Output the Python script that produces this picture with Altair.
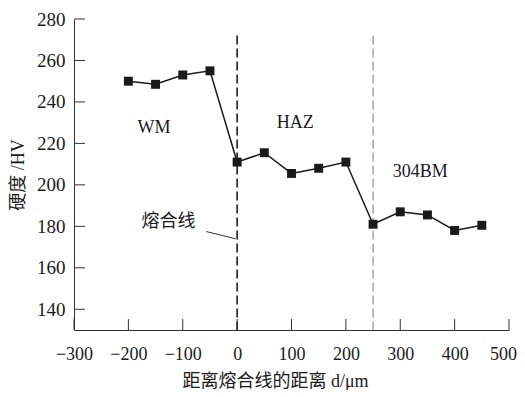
import altair as alt
import pandas as pd

dist = [-200, -150, -100, -50, 0, 50, 100, 150, 200, 250, 300, 350, 400, 450]
hard = [250, 248.5, 253, 255, 211, 215.5, 205.5, 208, 211, 181, 187, 185.5, 178, 180.5]
x_ticks = [-300, -200, -100, 0, 100, 200, 300, 400, 500]
y_ticks = [140, 160, 180, 200, 220, 240, 260, 280]
zones = ["WM", "HAZ", "304BM"]
zone_x = [-153, 107, 337]
zone_y = [227.5, 230, 206]
fusion_label = ["熔合线"]
fusion_x = [-126]
fusion_y = [182]
leader_x = [-57]
leader_x2 = [-3]
leader_y = [177.5]
leader_y2 = [174]
boundary_x = [0, 250]
boundary_top = 272
y_min, y_max = 130, 280
x_min, x_max = -300, 500

W, H = 435, 311
SERIF = "Liberation Serif"
CJK = "Liberation Serif, Noto Sans CJK SC"
INK = "#1a1a1a"

xs = alt.Scale(domain=[x_min, x_max], nice=False, zero=False)
ys = alt.Scale(domain=[y_min, y_max], nice=False, zero=False)

df = pd.DataFrame({"x": dist, "y": hard})

base_x = alt.X("x:Q", scale=xs, axis=alt.Axis(
    values=x_ticks, tickSize=0, labelPadding=15, labelFont=SERIF, labelFontSize=18,
    labelOverlap=False, labelFlush=False,
    labelOffset={"condition": {"test": "datum.value == 500", "value": -6}, "value": 0},
    labelColor=INK, domainColor="#333", domainWidth=1, grid=False,
    title="距离熔合线的距离 d/μm", titleFont=CJK, titleFontSize=18, titleFontWeight="normal",
    titleColor=INK, titlePadding=9, titleX=201))
base_y = alt.Y("y:Q", scale=ys, axis=alt.Axis(
    values=y_ticks, tickSize=0, labelPadding=9, labelFont=SERIF, labelFontSize=19,
    labelOverlap=False, labelFlush=False,
    labelColor=INK, domainColor="#333", domainWidth=1, grid=False,
    title="硬度 /HV", titleFont=CJK, titleFontSize=18, titleFontWeight="normal",
    titleColor=INK, titlePadding=9))

X = alt.X("x:Q", scale=xs)
Y = alt.Y("y:Q", scale=ys)

line = alt.Chart(df).mark_line(color=INK, strokeWidth=1.5).encode(x=base_x, y=base_y)
pts = alt.Chart(df).mark_point(shape="square", filled=True, size=80, color=INK, opacity=1).encode(x=X, y=Y)

bx = pd.DataFrame({"x": boundary_x, "y": [boundary_top] * 2, "y2": [y_min] * 2})
b0 = alt.Chart(bx.iloc[[0]]).mark_rule(color="#111", strokeWidth=1.5, strokeDash=[9, 4]).encode(
    x=X, y=Y, y2="y2:Q")
b1 = alt.Chart(bx.iloc[[1]]).mark_rule(color="#777", strokeWidth=1, strokeDash=[9, 4]).encode(
    x=X, y=Y, y2="y2:Q")

xt = alt.Chart(pd.DataFrame({"x": x_ticks})).mark_rule(color="#333", strokeWidth=1).encode(
    x=X, y=alt.value(H), y2=alt.value(H - 11))
yt = alt.Chart(pd.DataFrame({"y": y_ticks})).mark_rule(color="#333", strokeWidth=1).encode(
    y=Y, x=alt.value(0), x2=alt.value(11))

zt = alt.Chart(pd.DataFrame({"x": zone_x, "y": zone_y, "t": zones})).mark_text(
    font=SERIF, fontSize=18, color=INK, align="center", baseline="middle").encode(
    x=X, y=Y, text="t:N")
ft = alt.Chart(pd.DataFrame({"x": fusion_x, "y": fusion_y, "t": fusion_label})).mark_text(
    font=CJK, fontSize=18, color=INK, align="center", baseline="middle").encode(
    x=X, y=Y, text="t:N")
ld = alt.Chart(pd.DataFrame({"x": leader_x, "x2": leader_x2, "y": leader_y, "y2": leader_y2})).mark_rule(
    color="#333", strokeWidth=1).encode(x=X, x2="x2:Q", y=Y, y2="y2:Q")

chart = alt.layer(line, b0, b1, xt, yt, ld, pts, zt, ft).properties(
    width=W, height=H,
    autosize=alt.AutoSizeParams(type="none"),
    padding={"left": 66, "top": 11, "right": 8, "bottom": 60},
    background="white",
).configure_view(stroke=None)

chart.save("out.html", embed_options={"renderer": "svg", "actions": False})
